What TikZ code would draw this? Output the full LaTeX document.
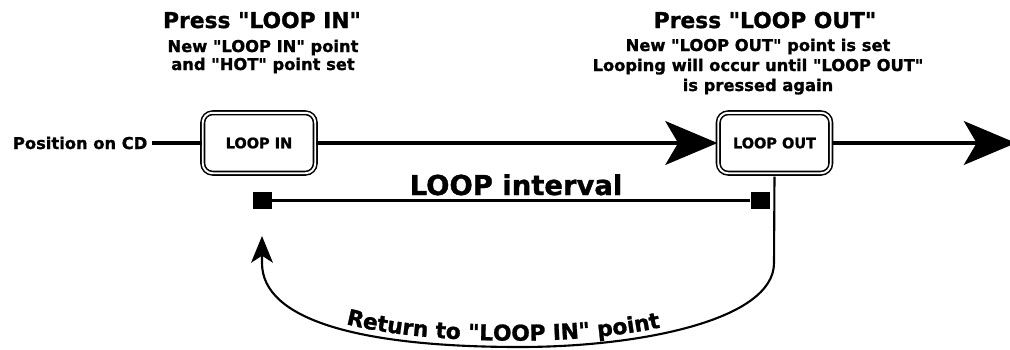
\documentclass[tikz,border=0pt]{standalone}
\usepackage{fontspec}
\newfontfamily\lblfont{DejaVu Sans}[BoldFeatures={FakeBold=1.2}]
\usetikzlibrary{arrows.meta,decorations.text}

\begin{document}
\begin{tikzpicture}[x=0.025cm,y=-0.025cm,
        btn/.style={
        draw=black, double=white, double distance=1.4pt, line width=1.1pt,
        rounded corners=7pt, inner sep=0pt,
        minimum width=80pt, minimum height=43pt,
        font=\lblfont\bfseries\fontsize{10.3}{12}\selectfont},
        head/.style={anchor=base, font=\lblfont\bfseries\fontsize{15.5}{18}\selectfont},
        sub/.style={anchor=base, font=\lblfont\bfseries\fontsize{11.6}{14}\selectfont},
        sqr/.style={fill=black, inner sep=0pt, minimum width=13.5pt, minimum height=12pt},
        cd/.style={line width=3.3pt},
        bigtip/.style={-{Stealth[length=37pt,width=31pt,inset=9pt]}},
        ]
        \useasboundingbox (0,0) rectangle (1010,349);

        % the two buttons on the CD line
        \node (pos) [sub, anchor=base west] at (8,149) {Position on CD};
        \node (in) [btn] at (259,143) {LOOP IN};
        \node (out) [btn] at (774.5,143) {LOOP OUT};
        \coordinate (end) at (1016,143);

        \draw [cd] (pos.east |- in.west) -- (in.west);
        \draw [cd, bigtip] (in.east) -- (out.west);
        \draw [cd, bigtip] (out.east) -- (end);

        % captions
        \node (inhead) [head] at (262,28) {Press "LOOP IN"};
        \node (insub1) [sub] at (263,52) {New "LOOP IN" point};
        \node (insub2) [sub] at (263,70) {and "HOT" point set};

        \node (outhead) [head] at (765,28) {Press "LOOP OUT"};
        \node (outsub1) [sub] at (758,51) {New "LOOP OUT" point is set};
        \node (outsub2) [sub] at (758,71) {Looping will occur until "LOOP OUT"};
        \node (outsub3) [sub] at (758,91) {is pressed again};

        % interval
        \node (ia) [sqr] at (262.5,200.5) {};
        \node (ib) [sqr] at (760,200.5) {};
        \draw [line width=1.8pt] (ia.east) -- (ib.west);
        \node (ilabel) [anchor=base, font=\lblfont\bfseries\fontsize{19.5}{22}\selectfont]
            at (516,195) {LOOP interval};

        % return path
        \coordinate (ret) at (262,236);
        \draw [line width=1.5pt, shorten <=1.8pt, -{Stealth[length=19pt,width=15.5pt,inset=5pt]}]
            (out.south) -- (774,263) .. controls (774,320) and (640,347) .. (520,347)
            .. controls (360,347) and (262,320) .. (262,263) -- (ret);
        \path [decorate, decoration={text along path, text align=center, raise=4.5pt,
            text={|\lblfont\bfseries\fontsize{15.5}{18}\selectfont|Return to "LOOP IN" point}}]
            (ret) -- (262,263) .. controls (262,320) and (360,347) .. (520,347)
            .. controls (640,347) and (774,320) .. (774,263);
\end{tikzpicture}
\end{document}
